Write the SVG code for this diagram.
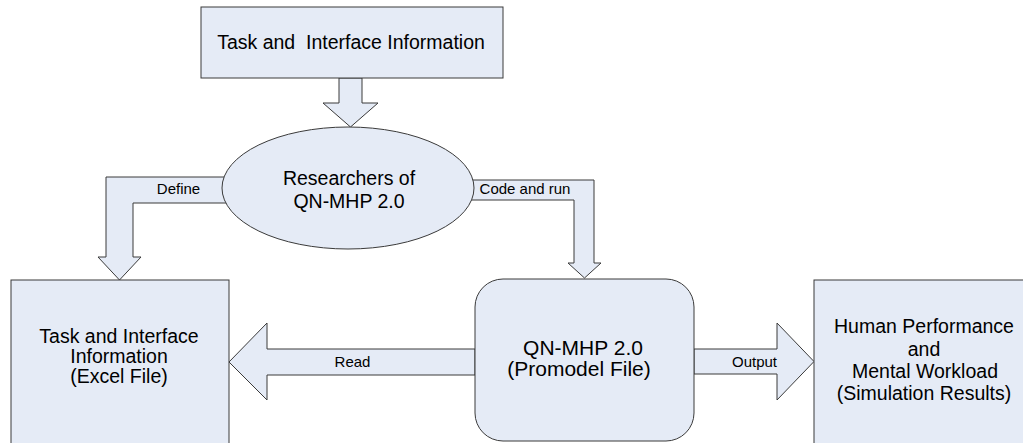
<svg xmlns="http://www.w3.org/2000/svg" width="1023" height="443" viewBox="0 0 1023 443">
<style>
.s{fill:#E5EBF6;stroke:#3a3a3a;stroke-width:1}
.t{font-family:"Liberation Sans",Arial,sans-serif;fill:#000;text-anchor:middle}
.n{font-size:19.5px}
.l{font-size:15px}
.b{font-size:21px}
</style>
<rect width="1023" height="443" fill="#fff"/>
<g id="connectors">
<polygon class="s" points="339,78 362,78 362,103 378,103 350.5,127 323,103 339,103"/>
<polygon class="s" points="240,177 106,177 106,257 98,257 119.5,280 141,257 133,257 133,203 240,203"/>
<polygon class="s" points="460,180 594,180 594,263 601,263 584.5,278 568,263 574,263 574,200 460,200"/>
<polygon class="s" points="475,349 267,349 267,323 229,362 267,400 267,375 475,375"/>
<polygon class="s" points="694,349 777,349 777,323 814,361.5 777,400 777,374 694,374"/>
<text class="t l" x="178.5" y="194">Define</text>
<text class="t l" x="525" y="194">Code and run</text>
<text class="t l" x="352.5" y="367">Read</text>
<text class="t l" x="754.5" y="367">Output</text>
</g>
<g id="task-info">
<rect class="s" x="201" y="7" width="302" height="71"/>
<text class="t n" x="351" y="49" xml:space="preserve">Task and  Interface Information</text>
</g>
<g id="researchers">
<ellipse class="s" cx="348" cy="188" rx="126" ry="61"/>
<text class="t n" x="349" y="185">Researchers of</text>
<text class="t n" x="349" y="208">QN-MHP 2.0</text>
</g>
<g id="excel-file">
<rect class="s" x="11" y="280" width="218" height="180"/>
<text class="t n" x="119" y="343">Task and Interface</text>
<text class="t n" x="119" y="363">Information</text>
<text class="t n" x="119" y="383">(Excel File)</text>
</g>
<g id="promodel-file">
<rect class="s" x="475" y="279" width="219" height="162" rx="28"/>
<text class="t b" x="583" y="355">QN-MHP 2.0</text>
<text class="t b" x="579" y="376">(Promodel File)</text>
</g>
<g id="results">
<rect class="s" x="814" y="280" width="220" height="180"/>
<text class="t n" x="924" y="333">Human Performance</text>
<text class="t n" x="924" y="356">and</text>
<text class="t n" x="925" y="378">Mental Workload</text>
<text class="t n" x="924" y="400">(Simulation Results)</text>
</g>
</svg>
